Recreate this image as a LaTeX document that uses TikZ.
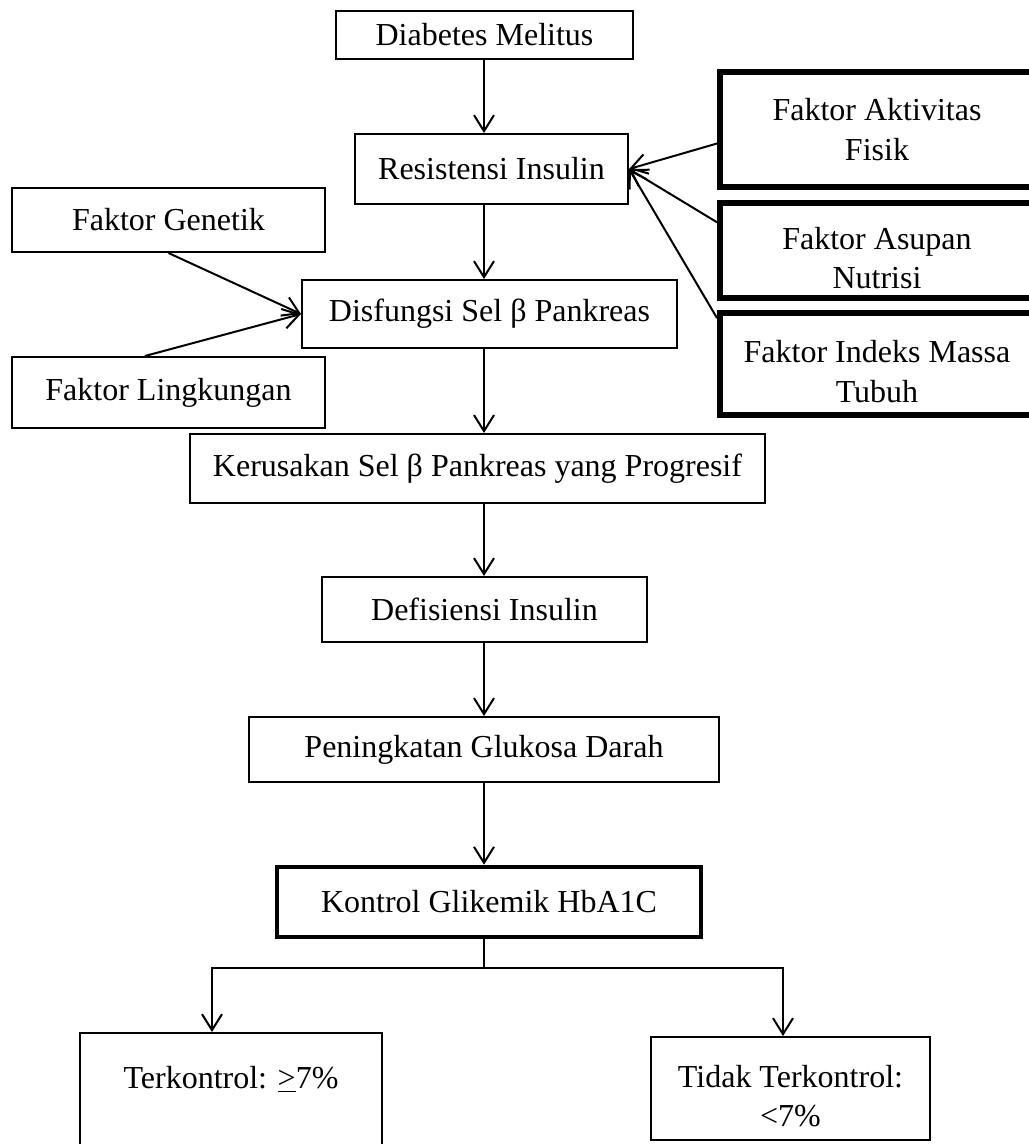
\documentclass[tikz,border=0pt]{standalone}
\usepackage{fontspec}
\setmainfont{Liberation Serif}
\usepackage{tikz}
\usetikzlibrary{arrows.meta}
\tikzset{
  box/.style={draw, line width=0.75pt, inner sep=0pt, align=center},
  boldbox/.style={box, line width=1.7pt},
  factor/.style={box, line width=2.2pt},
  lowtext/.style={text height=28.8pt},
  flow/.style={line width=0.75pt, -{Straight Barb[length=6pt, width=7.5pt, line width=0.75pt]}},
  link/.style={line width=0.75pt},
}

\begin{document}
\begin{tikzpicture}[x=0.375pt, y=-0.375pt, font={\fontsize{12pt}{14.8pt}\selectfont}]
\useasboundingbox (0,0) rectangle (1029,1144);
% main chain
\node[box, minimum width=111.4pt, minimum height=18pt] (diabetes) at (484.5,35) {Diabetes Melitus};
\node[box, minimum width=102.4pt, minimum height=26.25pt] (resist) at (491.5,169) {Resistensi Insulin};
\node[box, minimum width=140.6pt, minimum height=25.5pt] (disfungsi) at (489.5,314) {Disfungsi Sel β Pankreas};
\node[box, minimum width=215.6pt, minimum height=25.9pt] (kerusakan) at (477.5,468.5) {Kerusakan Sel β Pankreas yang Progresif};
\node[box, minimum width=121.9pt, minimum height=24.4pt] (defisiensi) at (484.5,609.5) {Defisiensi Insulin};
\node[box, minimum width=176.25pt, minimum height=24.4pt] (peningkatan) at (484,749.5) {Peningkatan Glukosa Darah};
\node[boldbox, minimum width=159pt, minimum height=26.25pt] (kontrol) at (489,902) {Kontrol Glikemik HbA1C};
% outcomes
\node[box, lowtext, minimum width=113.25pt, minimum height=46.5pt] (terkontrol) at (231,1095) {Terkontrol: \underline{>}7\%\\ \strut};
\node[box, lowtext, minimum width=104.6pt, minimum height=38.6pt] (tidak) at (790.5,1088.5) {Tidak Terkontrol:\\ <7\%};
% left factors
\node[box, minimum width=117.4pt, minimum height=24pt] (genetik) at (168.5,220) {Faktor Genetik};
\node[box, minimum width=117.4pt, minimum height=26.6pt] (lingkungan) at (168.5,392.5) {Faktor Lingkungan};
% right factors
\node[factor, minimum width=117.75pt, minimum height=43.1pt] (aktivitas) at (877,129.5) {Faktor Aktivitas\\ Fisik};
\node[factor, lowtext, minimum width=117.75pt, minimum height=35.6pt] (asupan) at (877,250.5) {Faktor Asupan\\ Nutrisi};
\node[factor, lowtext, minimum width=117.75pt, minimum height=38.25pt] (indeks) at (877,364) {Faktor Indeks Massa\\ Tubuh};
\coordinate (spine) at (484,0);
\coordinate (split) at (484,968);
\coordinate (kiri) at (212,968);
\coordinate (kanan) at (783,968);
% arrows
\draw[flow] (diabetes.south -| spine) -- (resist.north -| spine);
\draw[flow] (resist.south -| spine) -- (disfungsi.north -| spine);
\draw[flow] (disfungsi.south -| spine) -- (kerusakan.north -| spine);
\draw[flow] (kerusakan.south -| spine) -- (defisiensi.north -| spine);
\draw[flow] (defisiensi.south -| spine) -- (peningkatan.north -| spine);
\draw[flow] (peningkatan.south -| spine) -- (kontrol.north -| spine);
\draw[flow] (genetik.south) -- (disfungsi.west);
\draw[flow] (lingkungan.123) -- (disfungsi.west);
\draw[flow] (aktivitas.185) -- (resist.east);
\draw[flow] (asupan.170) -- (resist.east);
\draw[flow] (indeks.164) -- (resist.east);
\draw[link] (kontrol.south -| split) -- (split);
\draw[flow] (split) -- (kiri) -- (kiri |- terkontrol.north);
\draw[flow] (split) -- (kanan) -- (kanan |- tidak.north);
\end{tikzpicture}
\end{document}
